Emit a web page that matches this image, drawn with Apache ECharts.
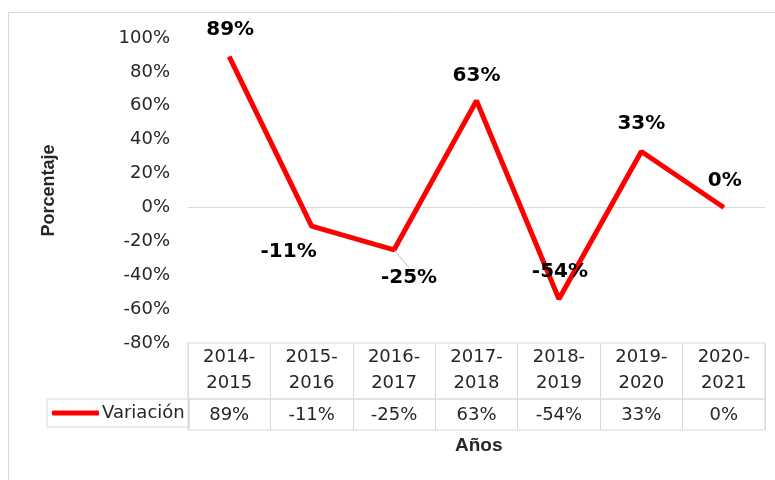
<!DOCTYPE html>
<html>
<head>
<meta charset="utf-8">
<script src="https://cdn.jsdelivr.net/npm/echarts@6/dist/echarts.min.js"></script>
<style>
  html, body { margin: 0; padding: 0; background: #fff; }
  #chart { width: 775px; height: 480px; }
</style>
</head>
<body>
<div id="chart"></div>
<script>
// datos
var categories = ['2014-2015', '2015-2016', '2016-2017', '2017-2018', '2018-2019', '2019-2020', '2020-2021'];
var variacion = [0.89, -0.11, -0.25, 0.63, -0.54, 0.33, 0.00];
var yMin = -0.8, yMax = 1.0, yStep = 0.2;

// desplazamiento de cada etiqueta respecto al punto
var labelShift = [[1, -27], [-23, 26], [15, 28], [0, -25], [1, -27], [0, -28], [1, -27]];

function pct (v) {
  return Math.round(v * 100) + '%';
}

var gridLine = '#d9d9d9';
var textColor = '#262626';
var font = 'DejaVu Sans';

var chart = echarts.init(document.getElementById('chart'));

var option = {
  animation: false,
  color: ['#ff0000'],
  grid: [
    { left: 188, top: 38, width: 577, height: 305 },
    { left: 188, top: 343, width: 577, height: 56, show: true, borderColor: gridLine, borderWidth: 1 },
    { left: 188, top: 399, width: 577, height: 31, show: true, borderColor: gridLine, borderWidth: 1 }
  ],
  title: {
    text: 'Años',
    left: 455,
    top: 436,
    padding: 0,
    textStyle: { fontFamily: 'Liberation Sans', fontWeight: 'bold', fontSize: 19, color: textColor }
  },
  legend: {
    data: ['Variación'],
    left: 47,
    top: 399,
    padding: [5, 5, 5, 5],
    itemWidth: 47,
    itemHeight: 5,
    itemGap: 0,
    icon: 'roundRect',
    borderColor: gridLine,
    borderWidth: 1,
    textStyle: { fontFamily: font, fontSize: 18, color: textColor, padding: [0, 0, 0, -2] }
  },
  xAxis: [
    {
      gridIndex: 0,
      type: 'category',
      data: categories,
      axisLine: { onZero: true, lineStyle: { color: gridLine, width: 1 } },
      axisTick: { show: false },
      axisLabel: { show: false },
      splitLine: { show: false }
    },
    {
      gridIndex: 1,
      type: 'category',
      position: 'top',
      data: categories,
      axisLine: { show: false },
      axisTick: { show: false },
      splitLine: { show: true, interval: 0, lineStyle: { color: gridLine } },
      axisLabel: {
        inside: true,
        interval: 0,
        margin: 1,
        fontFamily: font,
        fontSize: 18,
        lineHeight: 26,
        color: textColor,
        formatter: function (v) { return v.replace('-', '-\n'); }
      }
    },
    {
      gridIndex: 2,
      type: 'category',
      position: 'top',
      data: categories,
      axisLine: { show: false },
      axisTick: { show: false },
      splitLine: { show: true, interval: 0, lineStyle: { color: gridLine } },
      axisLabel: {
        inside: true,
        interval: 0,
        margin: 3,
        fontFamily: font,
        fontSize: 18,
        lineHeight: 26,
        color: textColor,
        formatter: function (v, i) { return pct(variacion[i]); }
      }
    }
  ],
  yAxis: [
    {
      gridIndex: 0,
      type: 'value',
      min: yMin,
      max: yMax,
      interval: yStep,
      name: 'Porcentaje',
      nameLocation: 'middle',
      nameRotate: 90,
      nameGap: 130,
      nameTextStyle: { fontFamily: 'Liberation Sans', fontWeight: 'bold', fontSize: 18, color: textColor },
      axisLine: { show: false },
      axisTick: { show: false },
      splitLine: { show: false },
      axisLabel: {
        margin: 18,
        fontFamily: font,
        fontSize: 18,
        color: textColor,
        formatter: function (v) { return pct(v); }
      }
    },
    { gridIndex: 1, type: 'value', show: false },
    { gridIndex: 2, type: 'value', show: false }
  ],
  series: [
    {
      name: 'Variación',
      type: 'line',
      xAxisIndex: 0,
      yAxisIndex: 0,
      data: variacion.map(function (v, i) {
        return i === 2 ? { value: v, labelLine: { show: true } } : v;
      }),
      symbol: 'circle',
      symbolSize: 1,
      lineStyle: { width: 5, color: '#ff0000' },
      itemStyle: { color: '#ff0000' },
      label: {
        show: true,
        position: 'inside',
        fontFamily: font,
        fontWeight: 'bold',
        fontSize: 20,
        color: '#000',
        formatter: function (p) { return pct(p.value); }
      },
      labelLine: { show: false, lineStyle: { color: '#bfbfbf', width: 1 } },
      labelLayout: function (p) {
        var s = labelShift[p.dataIndex];
        return { dx: s[0], dy: s[1] };
      }
    }
  ],
  graphic: [
    {
      type: 'rect',
      silent: true,
      shape: { x: 8.5, y: 12.5, width: 800, height: 500 },
      style: { fill: 'none', stroke: gridLine, lineWidth: 1 }
    }
  ]
};

chart.setOption(option);
</script>
</body>
</html>
